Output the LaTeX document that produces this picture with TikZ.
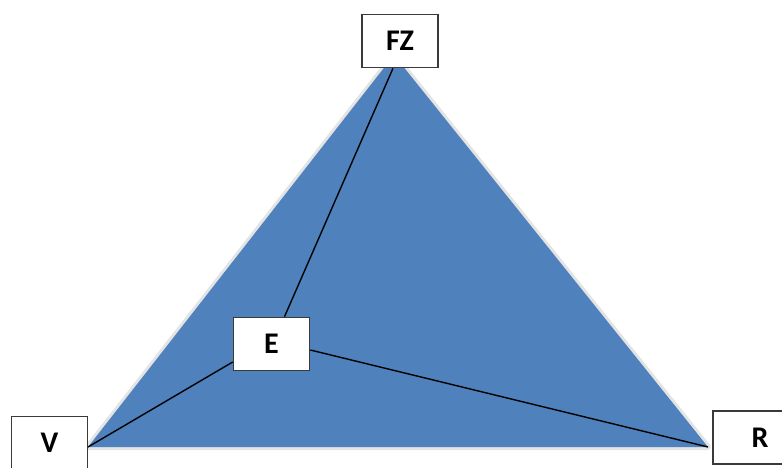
\documentclass[tikz,border=0pt]{standalone}
\usepackage{fontspec}
\setmainfont{Carlito}
\definecolor{triblue}{HTML}{4F81BD}
\definecolor{glow}{HTML}{E4E4E4}
\definecolor{boxline}{HTML}{3A3A3A}
\begin{document}
\begin{tikzpicture}[x=1pt,y=-1pt,
  lbl/.style={draw=boxline,line width=1.6pt,fill=white,minimum width=76pt,minimum height=53pt,inner sep=0pt,
    font=\fontsize{30}{30}\selectfont\bfseries},
  link/.style={black,line width=1.4pt}]
\useasboundingbox (0,0) rectangle (782,468);
\coordinate (apex) at (394,55);
\coordinate (bl) at (88,447);
\coordinate (br) at (708,447);
\draw[glow,line width=6pt,line join=round,fill=glow] (apex) -- (bl) -- (br) -- cycle;
\fill[triblue] (apex) -- (bl) -- (br) -- cycle;
\node[lbl] (fz) at (400,41) {FZ};
\node[lbl] (e) at (271.5,344) {E};
\node[lbl] (v) at (49.5,443) {V};
\node[lbl,minimum width=94pt] (r) at (760,437.5) {R};
\draw[link] ([xshift=-7pt]fz.south) -- ([xshift=13pt]e.north);
\draw[link] ([yshift=-18pt]e.west) -- (bl);
\draw[link] ([yshift=-6pt]e.east) -- (br);
\end{tikzpicture}
\end{document}
